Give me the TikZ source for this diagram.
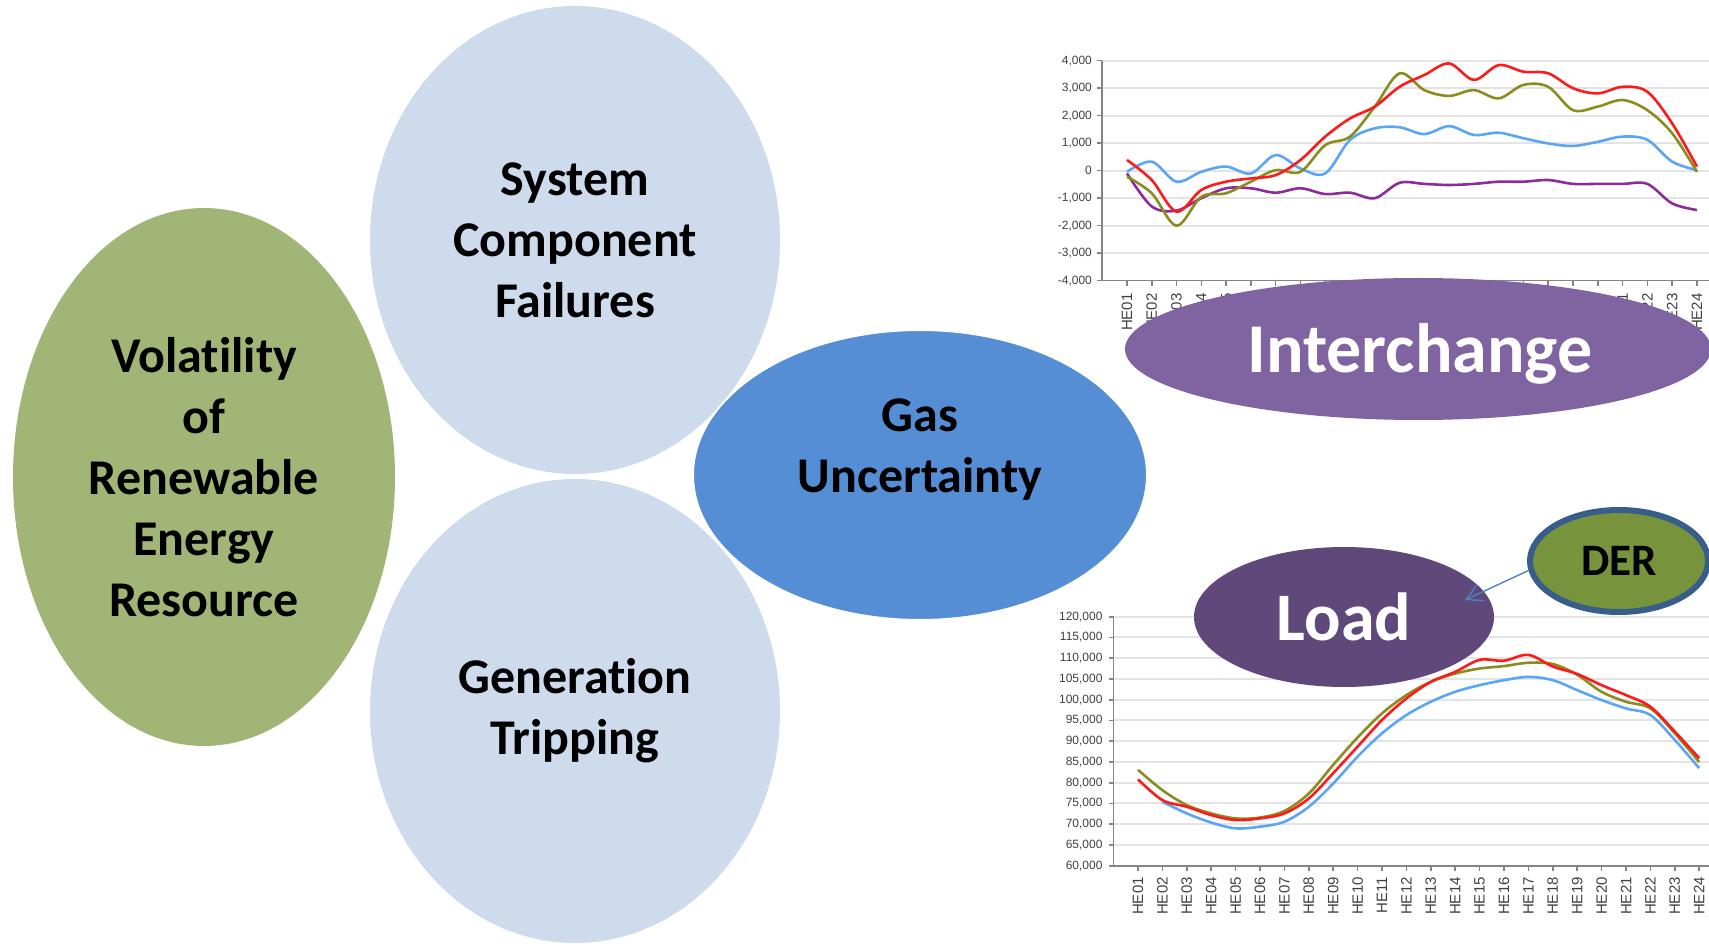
\documentclass[tikz,border=0pt]{standalone}
\usepackage{fontspec}
\setmainfont{Carlito}[Ligatures={NoCommon,NoContextual}]
\newfontfamily\chartfont{Liberation Sans}
\usetikzlibrary{shapes.geometric,arrows.meta}

\definecolor{volgreen}{HTML}{A0B576}
\definecolor{paleblue}{HTML}{CDDBEC}
\definecolor{gasblue}{HTML}{558ED5}
\definecolor{ichpurple}{HTML}{8064A2}
\definecolor{loadpurple}{HTML}{5F497A}
\definecolor{dergreen}{HTML}{77933C}
\definecolor{derline}{HTML}{385D8A}
\definecolor{arrowblue}{HTML}{4F81BD}
\definecolor{gridgray}{HTML}{E4E4E4}
\definecolor{axisgray}{HTML}{858585}
\definecolor{lnred}{HTML}{FF1A1A}
\definecolor{lnolive}{HTML}{8C8C1E}
\definecolor{lnblue}{HTML}{5AA5F5}
\definecolor{lnpurple}{HTML}{8E2A9B}

\begin{document}
\begin{tikzpicture}[x=0.5pt, y=-0.5pt,
    bubble/.style={ellipse, inner sep=0pt, align=center,
        font=\fontsize{25}{30.5}\selectfont\bfseries},
    gridline/.style={draw=gridgray, line width=1pt},
    axisline/.style={draw=axisgray, line width=0.8pt},
    ticklabel/.style={font=\chartfont\fontsize{6}{7}\selectfont, text=black!75, inner sep=0pt, anchor=east},
    hourlabel/.style={font=\chartfont\fontsize{7.5}{8}\selectfont, text=black!75, inner sep=0pt, rotate=90, anchor=east},
    series/.style={line width=1.3pt, smooth, tension=0.55, line join=round},
    derarrow/.style={draw=arrowblue, line width=0.7pt, -{Straight Barb[length=8pt,width=9pt]}}]
    \useasboundingbox (0,0) rectangle (1709,946);

    % Interchange chart (top right)
    \begin{scope}[shift={(1102.2,170.7)}, xscale=24.78, yscale=-27.5]
        \foreach \v in {-3,...,4}
            \draw[gridline] (0,\v) -- (24.5,\v);
        \draw[axisline] (0,4) -- (0,-4) -- (24.5,-4);
        \foreach \v/\t in {4/{4,000},3/{3,000},2/{2,000},1/{1,000},0/0,-1/{-1,000},-2/{-2,000},-3/{-3,000},-4/{-4,000}} {
            \draw[axisline] (0,\v) -- (-0.2,\v);
            \node[ticklabel] (iy\v) at (-0.4,\v) {\t};
        }
        \foreach \k in {1,...,24} {
            \draw[axisline] (\k,-4) -- (\k,-4.2);
            \node[hourlabel] (ix\k) at (\k,-4.45) {HE\ifnum\k<10 0\fi\k};
        }
        \draw[series, lnpurple] plot coordinates {(1,-0.10) (2,-1.30) (3,-1.45) (4,-1.00) (5,-0.64) (6,-0.64) (7,-0.80) (8,-0.64) (9,-0.85) (10,-0.80) (11,-1.00) (12,-0.44) (13,-0.48) (14,-0.52) (15,-0.48) (16,-0.40) (17,-0.40) (18,-0.34) (19,-0.48) (20,-0.48) (21,-0.48) (22,-0.48) (23,-1.19) (24,-1.43)};
        \draw[series, lnblue] plot coordinates {(1,-0.04) (2,0.33) (3,-0.40) (4,-0.04) (5,0.15) (6,-0.10) (7,0.57) (8,0.08) (9,-0.10) (10,1.12) (11,1.54) (12,1.58) (13,1.33) (14,1.62) (15,1.30) (16,1.38) (17,1.18) (18,0.99) (19,0.90) (20,1.05) (21,1.24) (22,1.12) (23,0.33) (24,0.02)};
        \draw[series, lnolive] plot coordinates {(1,-0.22) (2,-0.82) (3,-2.00) (4,-0.95) (5,-0.82) (6,-0.40) (7,0.02) (8,-0.04) (9,0.93) (10,1.24) (11,2.33) (12,3.54) (13,2.93) (14,2.72) (15,2.93) (16,2.63) (17,3.12) (18,3.05) (19,2.20) (20,2.33) (21,2.57) (22,2.20) (23,1.36) (24,-0.04)};
        \draw[series, lnred] plot coordinates {(1,0.39) (2,-0.34) (3,-1.49) (4,-0.70) (5,-0.40) (6,-0.28) (7,-0.16) (8,0.39) (9,1.24) (10,1.90) (11,2.33) (12,3.05) (13,3.48) (14,3.90) (15,3.30) (16,3.84) (17,3.60) (18,3.54) (19,3.00) (20,2.81) (21,3.05) (22,2.87) (23,1.72) (24,0.15)};
    \end{scope}

    % Load chart (bottom right)
    \begin{scope}[shift={(1113.6,1114.7)}, xscale=24.4, yscale=-4.15]
        \foreach \v in {65,70,...,120}
            \draw[gridline] (0,\v) -- (24.5,\v);
        \draw[axisline] (0,120) -- (0,60) -- (24.5,60);
        \foreach \v in {60,65,...,120} {
            \draw[axisline] (0,\v) -- (-0.2,\v);
            \node[ticklabel] (ly\v) at (-0.44,\v) {\v,000};
        }
        \foreach \k in {1,...,24} {
            \draw[axisline] (\k,60) -- (\k,58.7);
            \node[hourlabel] (lx\k) at (\k,57.3) {HE\ifnum\k<10 0\fi\k};
        }
        \draw[series, lnblue] plot coordinates {(2,75.4) (3,72.6) (4,70.4) (5,69.0) (6,69.4) (7,70.6) (8,74.2) (9,79.8) (10,86.3) (11,91.9) (12,96.3) (13,99.5) (14,101.9) (15,103.5) (16,104.7) (17,105.5) (18,104.7) (19,102.3) (20,99.9) (21,97.9) (22,96.3) (23,90.3) (24,83.5)};
        \draw[series, lnolive] plot coordinates {(1,83.1) (2,78.2) (3,74.6) (4,72.6) (5,71.4) (6,71.6) (7,73.2) (8,77.4) (9,84.3) (10,90.9) (11,96.7) (12,101.1) (13,104.3) (14,106.3) (15,107.5) (16,108.1) (17,108.9) (18,108.6) (19,106.0) (20,101.9) (21,99.5) (22,97.9) (23,91.9) (24,85.0)};
        \draw[series, lnred] plot coordinates {(1,80.8) (2,75.8) (3,74.2) (4,72.2) (5,71.0) (6,71.4) (7,72.6) (8,76.2) (9,82.3) (10,88.7) (11,95.1) (12,100.3) (13,104.3) (14,106.7) (15,109.6) (16,109.4) (17,110.8) (18,108.0) (19,106.2) (20,103.5) (21,101.1) (22,98.3) (23,92.3) (24,85.9)};
    \end{scope}

    % Causes (left side)
    \node[bubble, fill=volgreen, minimum width=191pt, minimum height=269pt] (vol) at (204,477) {Volatility\\of\\Renewable\\Energy\\Resource};
    \node[bubble, fill=paleblue, minimum width=205pt, minimum height=234pt] (scf) at (575,240) {System\\Component\\Failures};
    \node[bubble, fill=paleblue, minimum width=205pt, minimum height=232pt] (gen) at (575,711) {Generation\\Tripping};
    \node[bubble, fill=gasblue, draw=white, line width=1pt, minimum width=227pt, minimum height=145pt] (gas) at (920,475) {};
    \node[bubble] (gastext) at (920,450) {Gas\\Uncertainty};

    % Interchange and load
    \node[bubble, fill=ichpurple, minimum width=293pt, minimum height=71pt] (ich) at (1418,349) {};
    \node[bubble, text=white, font=\fontsize{35}{40}\selectfont\bfseries] (ichtext) at (1420,354) {Interchange};
    \node[bubble, fill=loadpurple, text=white, minimum width=150pt, minimum height=70pt,
        font=\fontsize{34}{40}\selectfont\bfseries] (load) at (1344,617) {Load};
    \node[bubble, fill=dergreen, draw=derline, line width=3pt, minimum width=89pt, minimum height=51pt,
        font=\fontsize{22.5}{27}\selectfont\bfseries] (der) at (1619,561) {DER};
    \coordinate (loadtip) at (1465,600);
    \draw[derarrow] (der.186) -- (loadtip);

\end{tikzpicture}
\end{document}
